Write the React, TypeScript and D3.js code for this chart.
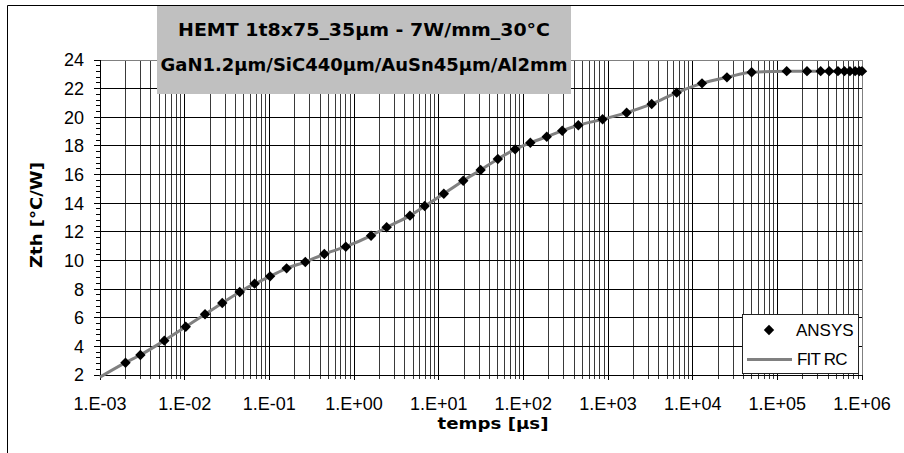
import React from "react";
import * as d3 from "d3";

const ANSYS_T = [2.0e-3, 3.0e-3, 5.75e-3, 0.0103, 0.0174, 0.0278, 0.0447, 0.067, 0.102, 0.16, 0.266, 0.446, 0.8, 1.59, 2.43, 4.58, 6.84, 11.5, 19.5, 31.3, 50, 80, 121, 189, 288, 446, 863, 1660, 3280, 6470, 12900, 25400, 49700, 1.29e5, 2.24e5, 3.25e5, 4.1e5, 5.2e5, 6.2e5, 7.2e5, 8.3e5, 9.3e5, 1e6];
const ANSYS_Z = [2.86, 3.4, 4.4, 5.37, 6.24, 7.03, 7.8, 8.38, 8.89, 9.45, 9.89, 10.45, 10.96, 11.73, 12.32, 13.13, 13.8, 14.66, 15.57, 16.32, 17.09, 17.76, 18.22, 18.64, 19.06, 19.44, 19.86, 20.32, 20.93, 21.72, 22.37, 22.79, 23.14, 23.22, 23.22, 23.22, 23.22, 23.22, 23.22, 23.22, 23.22, 23.22, 23.22];
const FIT_T = [1e-3, ...ANSYS_T];
const FIT_Z = [1.85, ...ANSYS_Z];
const X_TICKS = [1e-3, 1e-2, 1e-1, 1e0, 1e1, 1e2, 1e3, 1e4, 1e5, 1e6];
const X_LABELS = ["1.E-03", "1.E-02", "1.E-01", "1.E+00", "1.E+01", "1.E+02", "1.E+03", "1.E+04", "1.E+05", "1.E+06"];
const Y_TICKS = [2, 4, 6, 8, 10, 12, 14, 16, 18, 20, 22, 24];
const TITLE_1 = "HEMT 1t8x75_35µm - 7W/mm_30°C";
const TITLE_2 = "GaN1.2µm/SiC440µm/AuSn45µm/Al2mm";
const X_TITLE = "temps [µs]";
const Y_TITLE = "Zth [°C/W]";
const LEGEND = ["ANSYS", "FIT RC"];

const L = 100, R = 862, T = 60, B = 375;
const ARIAL = "'Liberation Sans', Arial, sans-serif";
const BOLD = "'DejaVu Sans', sans-serif";

function diamond(cx: number, cy: number, r: number) {
  return `M${cx},${cy - r}L${cx + r},${cy}L${cx},${cy + r}L${cx - r},${cy}Z`;
}

export default function App() {
  const x = d3.scaleLog().domain([1e-3, 1e6]).range([L, R]);
  const y = d3.scaleLinear().domain([2, 24]).range([B, T]);

  const minorX: number[] = [];
  for (let e = -3; e < 6; e++) {
    for (let m = 2; m <= 9; m++) minorX.push(m * Math.pow(10, e));
  }
  const minorY: number[] = [];
  for (let v = 2; v < 24; v += 2) {
    for (let k = 1; k <= 4; k++) minorY.push(v + k * 0.4);
  }

  const line = d3
    .line<number>()
    .x((_, i) => x(FIT_T[i]))
    .y((_, i) => y(FIT_Z[i]))
    .curve(d3.curveMonotoneX);

  return (
    <svg width={904} height={453} style={{ position: "absolute", left: 0, top: 0, background: "#fff" }}>
      {/* outer frame */}
      <line x1={7.5} y1={5.5} x2={904} y2={5.5} stroke="#000" />
      <line x1={7.5} y1={5.5} x2={7.5} y2={453} stroke="#000" />

      {/* grid */}
      <g shapeRendering="crispEdges">
        {minorX.map((v, i) => (
          <line key={"mx" + i} x1={x(v)} x2={x(v)} y1={T} y2={B + 4} stroke="#3a3a3a" />
        ))}
        {X_TICKS.map((v, i) => (
          <line key={"Mx" + i} x1={x(v)} x2={x(v)} y1={T} y2={B + 5} stroke="#000" />
        ))}
        {Y_TICKS.map((v, i) => (
          <line key={"My" + i} x1={L - 6} x2={R} y1={y(v)} y2={y(v)} stroke="#000" />
        ))}
        {minorY.map((v, i) => (
          <line key={"my" + i} x1={L - 4} x2={L} y1={y(v)} y2={y(v)} stroke="#000" />
        ))}
        <line x1={L} x2={R} y1={T} y2={T} stroke="#808080" />
        <line x1={R} x2={R} y1={T} y2={B} stroke="#808080" />
        <line x1={L} x2={L} y1={T} y2={B} stroke="#000" />
        <line x1={L} x2={R} y1={B} y2={B} stroke="#000" />
      </g>

      {/* fit line */}
      <path d={line(FIT_T) || ""} fill="none" stroke="#808080" strokeWidth={3} />
      {/* ANSYS points */}
      {ANSYS_T.map((t, i) => (
        <path key={"p" + i} d={diamond(x(t), y(ANSYS_Z[i]), 5.2)} fill="#000" />
      ))}

      {/* tick labels */}
      {X_TICKS.map((v, i) => (
        <text key={"xl" + i} x={x(v)} y={410} textAnchor="middle" fontFamily={ARIAL} fontSize={18}>
          {X_LABELS[i]}
        </text>
      ))}
      {Y_TICKS.map((v, i) => (
        <text key={"yl" + i} x={84} y={y(v)} dy="0.36em" textAnchor="end" fontFamily={ARIAL} fontSize={18}>
          {v}
        </text>
      ))}

      {/* axis titles */}
      <text x={493} y={429} textAnchor="middle" fontFamily={BOLD} fontWeight="bold" fontSize={16} textLength={111} lengthAdjust="spacingAndGlyphs">
        {X_TITLE}
      </text>
      <text transform="translate(42,215) rotate(-90)" textAnchor="middle" fontFamily={BOLD} fontWeight="bold" fontSize={16} textLength={106} lengthAdjust="spacingAndGlyphs">
        {Y_TITLE}
      </text>

      {/* title box */}
      <rect x={157} y={6} width={414} height={88} fill="#c0c0c0" />
      <text x={364} y={36} textAnchor="middle" fontFamily={BOLD} fontWeight="bold" fontSize={17} textLength={372} lengthAdjust="spacingAndGlyphs">
        {TITLE_1}
      </text>
      <text x={364} y={71} textAnchor="middle" fontFamily={BOLD} fontWeight="bold" fontSize={17} textLength={407} lengthAdjust="spacingAndGlyphs">
        {TITLE_2}
      </text>

      {/* legend */}
      <rect x={742.5} y={314.5} width={116} height={59} fill="#fff" stroke="#222" shapeRendering="crispEdges" />
      <path d={diamond(769, 330, 5.2)} fill="#000" />
      <text x={796} y={336} fontFamily={ARIAL} fontSize={17}>{LEGEND[0]}</text>
      <line x1={747} x2={792} y1={359.5} y2={359.5} stroke="#808080" strokeWidth={3} />
      <text x={797} y={365} fontFamily={ARIAL} fontSize={17} letterSpacing={-0.8}>{LEGEND[1]}</text>
    </svg>
  );
}
